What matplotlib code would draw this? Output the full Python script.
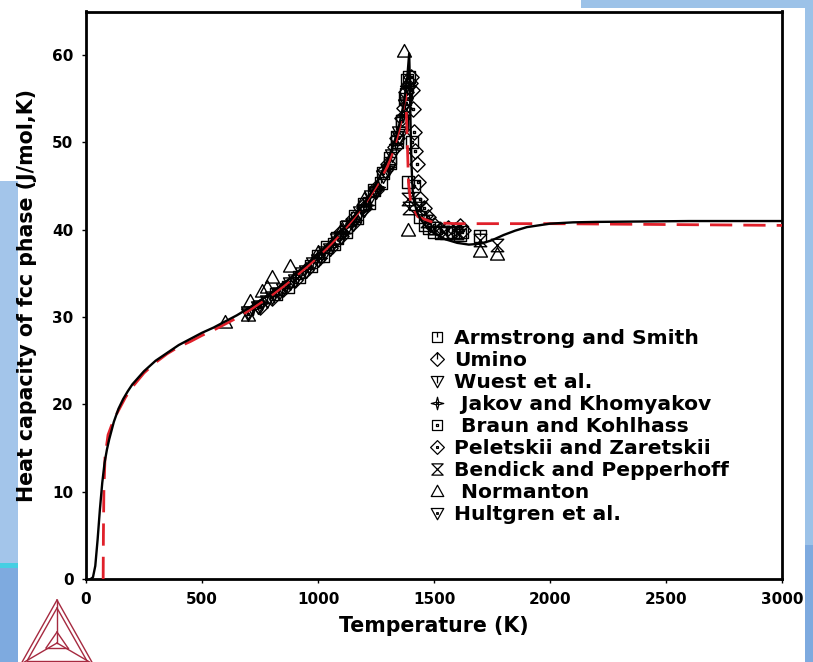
import matplotlib
matplotlib.use("Agg")
import matplotlib.pyplot as plt
from matplotlib.path import Path
from matplotlib.lines import Line2D
from matplotlib.patches import Rectangle

plt.rcParams['font.family'] = ['DejaVu Sans']
plt.rcParams['font.weight'] = 'bold'

# ---------------- data ----------------
calc_T = [20, 30, 40, 50, 60, 70, 80, 90, 100, 120, 140, 160, 180, 200, 250, 300, 350, 400,
          450, 500, 550, 600, 650, 700, 750, 800, 850, 900, 950, 1000, 1050, 1100, 1150,
          1200, 1250, 1300, 1325, 1350, 1370, 1385, 1393, 1396, 1399, 1403, 1408, 1415,
          1425, 1440, 1470, 1500, 1550, 1600, 1650, 1700, 1750, 1800, 1850, 1900, 1950,
          2000, 2100, 2200, 2400, 2600, 2800, 3000]
calc_Cp = [0.0, 0.2, 1.5, 4.5, 8.0, 11.0, 13.3, 14.8, 16.0, 18.0, 19.5, 20.6, 21.5, 22.3, 23.8,
           25.0, 25.9, 26.8, 27.5, 28.2, 28.8, 29.5, 30.2, 31.0, 31.9, 32.8, 33.8, 34.9, 36.0,
           37.2, 38.5, 39.9, 41.4, 43.0, 45.2, 48.0, 49.7, 52.0, 54.5, 57.5, 60.2, 57.0, 52.0,
           47.5, 44.5, 43.2, 42.2, 41.3, 40.2, 39.6, 38.9, 38.5, 38.3, 38.4, 38.8, 39.4, 39.9,
           40.3, 40.5, 40.7, 40.85, 40.9, 40.95, 41.0, 41.0, 41.0]

alt_T = [74, 75, 77, 82, 95, 120, 140, 170, 200, 250, 300, 350, 400, 450, 500, 550, 600, 650,
         700, 750, 800, 850, 900, 950, 1000, 1050, 1100, 1150, 1200, 1250, 1300, 1330, 1350,
         1365, 1378, 1385, 1390, 1400, 1430, 1500, 1600, 2000, 2500, 3000]
alt_Cp = [0.0, 5.0, 10.0, 14.0, 16.5, 18.3, 19.3, 20.8, 22.0, 23.6, 24.8, 25.8, 26.6, 27.2, 27.9,
          28.5, 29.2, 29.9, 30.7, 31.6, 32.5, 33.5, 34.6, 35.7, 36.9, 38.2, 39.6, 41.2, 42.9,
          44.9, 47.3, 49.5, 51.5, 53.5, 55.5, 50.0, 45.5, 43.0, 41.5, 40.8, 40.7, 40.7, 40.6, 40.5]

armstrong_T = [820, 870, 920, 970, 1020, 1070, 1120, 1170, 1220, 1270, 1310, 1340, 1360, 1375,
               1385, 1388, 1420, 1460, 1500, 1550, 1610, 1700]
armstrong_Cp = [32.6, 33.5, 34.6, 35.9, 37.0, 38.4, 39.8, 41.3, 43.1, 45.3, 47.6, 50.0, 52.2,
                55.0, 57.2, 45.5, 43.0, 40.5, 39.8, 39.6, 39.4, 39.3]

umino_T = [750, 800, 850, 900, 950, 1000, 1050, 1100, 1150, 1200, 1250, 1290, 1330, 1360, 1380, 1395]
umino_Cp = [31.2, 32.2, 33.2, 34.3, 35.4, 36.6, 37.9, 39.3, 40.8, 42.5, 44.6, 46.8, 49.5, 52.8,
            55.8, 56.8]

wuest_T = [700, 740, 780, 830, 880, 930, 980, 1030, 1080, 1130, 1180, 1230, 1280, 1320, 1350, 1375]
wuest_Cp = [30.6, 31.2, 31.8, 32.8, 33.9, 35.0, 36.2, 37.5, 38.9, 40.4, 42.0, 43.9, 46.2, 48.6,
            51.2, 54.3]

jakov_T = [720, 760, 810, 860, 910, 960, 1010, 1060, 1110, 1160, 1210, 1260, 1300, 1335, 1365, 1385]
jakov_Cp = [31.0, 31.6, 32.5, 33.4, 34.5, 35.6, 36.8, 38.1, 39.6, 41.1, 42.8, 44.9, 47.2, 49.8,
            53.2, 56.5]

braun_T = [1000, 1040, 1080, 1120, 1160, 1200, 1240, 1280, 1310, 1340, 1360, 1380, 1392, 1405,
           1415, 1440, 1480, 1530, 1580, 1620]
braun_Cp = [37.0, 38.0, 39.1, 40.3, 41.6, 43.0, 44.6, 46.5, 48.2, 50.6, 52.5, 55.5, 57.5, 50.0,
            45.0, 41.5, 40.2, 39.6, 39.8, 39.7]

peletskii_T = [1100, 1150, 1200, 1250, 1300, 1340, 1370, 1390, 1400, 1405, 1410, 1415, 1420,
               1425, 1430, 1440, 1455, 1475, 1500, 1530, 1560, 1590, 1610, 1625]
peletskii_Cp = [39.7, 41.2, 42.8, 44.8, 47.5, 50.5, 54.0, 56.5, 57.5, 56.0, 53.8, 51.2, 49.0,
                47.5, 45.5, 43.5, 42.5, 41.5, 40.5, 40.0, 40.2, 40.0, 40.4, 40.0]

bendick_T = [1388, 1392, 1440, 1470, 1500, 1540, 1600, 1700, 1770]
bendick_Cp = [43.5, 42.5, 42.5, 41.0, 40.2, 39.8, 39.6, 38.8, 38.3]

normanton_T = [600, 700, 705, 760, 780, 800, 880, 1000, 1100, 1200, 1370, 1390, 1700, 1770]
normanton_Cp = [29.4, 30.2, 31.8, 33.0, 33.5, 34.6, 35.8, 37.5, 40.0, 43.5, 60.5, 40.0, 37.6, 37.2]

hultgren_T = [700, 750, 800, 850, 900, 950, 1000, 1050, 1100, 1150, 1200, 1250, 1300, 1350, 1380]
hultgren_Cp = [30.3, 31.3, 32.3, 33.2, 34.2, 35.3, 36.5, 37.8, 39.2, 40.7, 42.3, 44.3, 46.8, 50.6, 54.5]

labels = ["Armstrong and Smith", "Umino", "Wuest et al.", " Jakov and Khomyakov",
          " Braun and Kohlhass", "Peletskii and Zaretskii", "Bendick and Pepperhoff",
          " Normanton", "Hultgren et al."]

x_ticks = [0, 500, 1000, 1500, 2000, 2500, 3000]
y_ticks = [0, 10, 20, 30, 40, 50, 60]

# ---------------- marker shapes ----------------
M, L, C = Path.MOVETO, Path.LINETO, Path.CLOSEPOLY


def poly(pts):
    return list(pts) + [pts[0]], [M] + [L] * (len(pts) - 1) + [C]


def combine(*parts):
    v, c = [], []
    for pv, pc in parts:
        v += pv
        c += pc
    return Path(v, c)


square = [(-1, -1), (1, -1), (1, 1), (-1, 1)]
diamond = [(0, 1), (1, 0), (0, -1), (-1, 0)]
tri_up = [(-1, -0.8), (1, -0.8), (0, 1)]
tri_dn = [(-1, 0.8), (1, 0.8), (0, -1)]
dot = [(-0.13, -0.13), (0.13, -0.13), (0.13, 0.13), (-0.13, 0.13)]
tick_sq = ([(0, 1), (0, 0)], [M, L])
tick_dm = ([(0, 1), (0, 0)], [M, L])
tick_tr = ([(0, 0.8), (0, -0.3)], [M, L])
star = [(0, 1), (0.2, 0.2), (1, 0), (0.2, -0.2), (0, -1), (-0.2, -0.2), (-1, 0), (-0.2, 0.2)]
hourglass_v = [(-1, 1), (1, 1), (-1, -1), (1, -1)]

mk_armstrong = combine(poly(square), tick_sq)
mk_umino = combine(poly(diamond), tick_dm)
mk_wuest = combine(poly(tri_dn), tick_tr)
mk_jakov = combine(poly(star), poly(dot))
mk_braun = combine(poly(square), poly(dot))
mk_peletskii = combine(poly(diamond), poly(dot))
mk_bendick = combine(poly(hourglass_v))
mk_normanton = combine(poly(tri_up))
mk_hultgren = combine(poly(tri_dn), poly(dot))

series = [
    (armstrong_T, armstrong_Cp, mk_armstrong, 8),
    (umino_T, umino_Cp, mk_umino, 11),
    (wuest_T, wuest_Cp, mk_wuest, 10),
    (jakov_T, jakov_Cp, mk_jakov, 10),
    (braun_T, braun_Cp, mk_braun, 8),
    (peletskii_T, peletskii_Cp, mk_peletskii, 11),
    (bendick_T, bendick_Cp, mk_bendick, 9),
    (normanton_T, normanton_Cp, mk_normanton, 10),
    (hultgren_T, hultgren_Cp, mk_hultgren, 10),
]

# ---------------- figure ----------------
W, H = 813, 662
fig = plt.figure(figsize=(W / 100, H / 100), dpi=100, facecolor='white')


def fx(x):
    return x / W


def fy(y):
    return 1 - y / H


def frect(x0, y0, x1, y1, color):
    fig.add_artist(Rectangle((fx(x0), fy(y1)), fx(x1) - fx(x0), fy(y0) - fy(y1),
                             transform=fig.transFigure, color=color, lw=0, zorder=0))


# background decoration
frect(0, 181, 18, 563, '#a3c5ea')
frect(0, 563, 18, 568, '#45cfe3')
frect(0, 568, 18, 662, '#7eaadf')
frect(581, 0, 813, 8, '#9cc2e8')
frect(805, 0, 813, 545, '#9cc2e8')
frect(805, 545, 813, 662, '#7eaadf')

# logo
logo_col = '#a62a40'
A, B, Cc, G = (57, 600), (21, 664), (93, 664), (57, 643)
A2, B2, C2 = (57, 608), (27, 661), (87, 661)
segs = [(A, B), (B, Cc), (Cc, A), (A2, B2), (B2, C2), (C2, A2), (G, A), (G, B), (G, Cc),
        ((57, 632), (46, 648)), ((46, 648), (68, 648)), ((68, 648), (57, 632))]
for p, q in segs:
    fig.add_artist(Line2D([fx(p[0]), fx(q[0])], [fy(p[1]), fy(q[1])], transform=fig.transFigure,
                          color=logo_col, lw=1.0, zorder=1))

ax = fig.add_axes([fx(86), fy(579), fx(782) - fx(86), fy(11.5) - fy(579)])
ax.set_xlim(0, 3000)
ax.set_ylim(0, 65)

for T, Cp, mk, ms in series:
    ax.plot(T, Cp, linestyle='none', marker=mk, markersize=ms, markerfacecolor='none',
            markeredgecolor='black', markeredgewidth=1.0, zorder=2)

ax.plot(alt_T, alt_Cp, color='#e0202a', lw=2.0, dashes=(8, 4), zorder=3)
ax.plot(calc_T, calc_Cp, color='black', lw=1.7, zorder=4)

ax.set_xticks(x_ticks)
ax.set_yticks(y_ticks)
ax.set_xticklabels([str(t) for t in x_ticks])
ax.set_yticklabels([str(t) for t in y_ticks])
ax.tick_params(direction='out', length=3, width=1, labelsize=11, pad=6)
for lab in ax.get_xticklabels() + ax.get_yticklabels():
    lab.set_fontweight('bold')
for s in ax.spines.values():
    s.set_linewidth(2.0)

ax.set_xlabel('Temperature (K)', fontsize=14.8, fontweight='bold')
ax.set_ylabel('Heat capacity of fcc phase (J/mol,K)', fontsize=14.8, fontweight='bold')
ax.xaxis.set_label_coords(0.5, -0.066)
ax.yaxis.set_label_coords(-0.070, 0.5)

handles = [Line2D([], [], linestyle='none', marker=mk, markersize=ms * 0.9,
                  markerfacecolor='none', markeredgecolor='black', markeredgewidth=0.9)
           for _, _, mk, ms in series]
leg = ax.legend(handles, labels, loc='upper left', bbox_to_anchor=(fx(427), fy(329)),
                bbox_transform=fig.transFigure, frameon=False,
                handlelength=1.0, handletextpad=0.35, labelspacing=0.15,
                borderpad=0, borderaxespad=0, prop={'weight': 'bold', 'size': 14.6})

fig.savefig('out.png', dpi=100, facecolor='white')
